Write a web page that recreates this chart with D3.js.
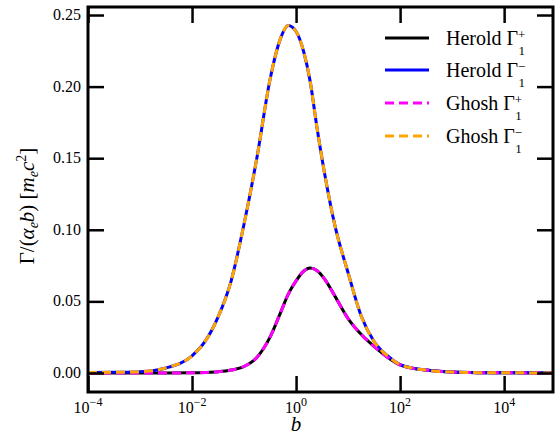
<!DOCTYPE html>
<html>
<head>
<meta charset="utf-8">
<script src="https://cdn.jsdelivr.net/npm/d3@7"></script>
<style>
  body { margin: 0; background: #fff; }
  text { font-family: "Liberation Serif", "DejaVu Serif", serif; }
</style>
</head>
<body>
<div id="chart"></div>
<script>
// b values
const bVals = [1e-4, 3.16e-4, 1e-3, 3.16e-3, 1e-2, 1.78e-2, 3.16e-2, 5.62e-2, 0.1, 0.178, 0.316,
  0.501, 0.708, 1, 1.41, 1.86, 2.51, 3.55, 5.62, 10, 17.8, 31.6, 56.2, 100, 178, 316, 1e3, 3.16e3, 1e4, 8.7e4]
// Gamma_1^- (Herold and Ghosh coincide)
const gMinus = [0.0003, 0.0005, 0.0009, 0.0035, 0.012, 0.022, 0.039, 0.064, 0.104, 0.151, 0.205,
  0.2335, 0.2426, 0.2385, 0.224, 0.204, 0.172, 0.139, 0.1025, 0.070, 0.040, 0.022, 0.0122, 0.0058, 0.0033, 0.0020, 0.0006, 0.0002, 0.0001, 0.00003]
// Gamma_1^+
const gPlus = [0.0, 0.0, 0.0, 0.0, 0.0001, 0.0003, 0.0008, 0.002, 0.0045, 0.011, 0.025,
  0.042, 0.055, 0.0643, 0.0712, 0.0733, 0.0716, 0.0655, 0.0535, 0.038, 0.027, 0.0185, 0.0112, 0.0056, 0.0032, 0.0020, 0.0006, 0.0002, 0.0001, 0.00003]

const xTicks = [1e-4, 1e-2, 1, 1e2, 1e4]
const xTickExp = ['\u22124', '\u22122', '0', '2', '4']
const yTicks = [0, 0.05, 0.10, 0.15, 0.20, 0.25]

const series = [
  { name: 'Herold', sign: '+', values: gPlus, color: '#000000', dash: null },
  { name: 'Herold', sign: '\u2212', values: gMinus, color: '#0000ff', dash: null },
  { name: 'Ghosh', sign: '+', values: gPlus, color: '#ff00ff', dash: '9,5' },
  { name: 'Ghosh', sign: '\u2212', values: gMinus, color: '#ffa500', dash: '9,5' }
]

const width = 556,
  height = 435,
  mLeft = 88,
  mRight = 553,
  mTop = 7,
  mBottom = 392

const svg = d3.select('#chart')
  .append('svg')
  .attr('width', width)
  .attr('height', height)

const x = d3.scaleLog()
  .domain([1e-4, 8.7e4])
  .range([mLeft, mRight])

const y = d3.scaleLinear()
  .domain([-0.0133, 0.2556])
  .range([mBottom, mTop])

svg.append('clipPath').attr('id', 'clip')
  .append('rect')
  .attr('x', mLeft).attr('y', mTop)
  .attr('width', mRight - mLeft).attr('height', mBottom - mTop)

const line = d3.line()
  .x((d, i) => x(bVals[i]))
  .y(d => y(d))
  .curve(d3.curveMonotoneX)

const plot = svg.append('g').attr('clip-path', 'url(#clip)')
series.forEach(s => {
  plot.append('path')
    .datum(s.values)
    .attr('d', line)
    .attr('fill', 'none')
    .attr('stroke', s.color)
    .attr('stroke-width', 3)
    .attr('stroke-dasharray', s.dash)
})

// axes, ticks inward on all four sides
const tickLen = 16
const xAxisB = d3.axisBottom(x).tickValues(xTicks).tickSize(-tickLen).tickFormat('')
const xAxisT = d3.axisTop(x).tickValues(xTicks).tickSize(-tickLen).tickFormat('')
const yAxisL = d3.axisLeft(y).tickValues(yTicks).tickSize(-tickLen).tickFormat('')
const yAxisR = d3.axisRight(y).tickValues(yTicks).tickSize(-tickLen).tickFormat('')

const axes = [
  svg.append('g').attr('transform', `translate(0,${mBottom})`).call(xAxisB),
  svg.append('g').attr('transform', `translate(0,${mTop})`).call(xAxisT),
  svg.append('g').attr('transform', `translate(${mLeft},0)`).call(yAxisL),
  svg.append('g').attr('transform', `translate(${mRight},0)`).call(yAxisR)
]
axes.forEach(g => {
  g.select('.domain').remove()
  g.selectAll('.tick line').attr('stroke', '#000').attr('stroke-width', 2.5)
})

svg.append('rect')
  .attr('x', mLeft).attr('y', mTop)
  .attr('width', mRight - mLeft).attr('height', mBottom - mTop)
  .attr('fill', 'none')
  .attr('stroke', '#000')
  .attr('stroke-width', 3)

// tick labels
xTicks.forEach((t, i) => {
  const lab = svg.append('text')
    .attr('x', x(t))
    .attr('y', 413)
    .attr('text-anchor', 'middle')
    .attr('font-size', 16)
  lab.append('tspan').text('10')
  lab.append('tspan').attr('dy', -7).attr('font-size', 12).text(xTickExp[i])
})

yTicks.forEach(t => {
  svg.append('text')
    .attr('x', 81)
    .attr('y', y(t) + 5)
    .attr('text-anchor', 'end')
    .attr('font-size', 16)
    .text(t.toFixed(2))
})

// axis labels
svg.append('text')
  .attr('x', x(1))
  .attr('y', 431)
  .attr('text-anchor', 'middle')
  .attr('font-size', 21)
  .attr('font-style', 'italic')
  .text('b')

const yl = svg.append('text')
  .attr('transform', 'translate(34,206) rotate(-90)')
  .attr('text-anchor', 'middle')
  .attr('font-size', 21)
yl.append('tspan').text('\u0393/(')
yl.append('tspan').attr('font-style', 'italic').text('\u03b1')
yl.append('tspan').attr('font-style', 'italic').attr('font-size', 14).attr('dy', 4).text('e')
yl.append('tspan').attr('font-style', 'italic').attr('dy', -4).text('b')
yl.append('tspan').text(')  [')
yl.append('tspan').attr('font-style', 'italic').text('m')
yl.append('tspan').attr('font-style', 'italic').attr('font-size', 14).attr('dy', 4).text('e')
yl.append('tspan').attr('font-style', 'italic').attr('dy', -4).text('c')
yl.append('tspan').attr('font-size', 14).attr('dy', -8).text('2')
yl.append('tspan').attr('dy', 8).text(']')

// legend
const legY = [38, 70, 103, 136]
series.forEach((s, i) => {
  svg.append('line')
    .attr('x1', 385).attr('x2', 429)
    .attr('y1', legY[i]).attr('y2', legY[i])
    .attr('stroke', s.color)
    .attr('stroke-width', 3)
    .attr('stroke-dasharray', s.dash)
  const t = svg.append('text')
    .attr('x', 446)
    .attr('y', legY[i] + 7)
    .attr('font-size', 20)
  t.append('tspan').text(s.name + ' \u0393')
  t.append('tspan').attr('font-size', 13).attr('dy', -6).text(s.sign)
  t.append('tspan').attr('font-size', 13).attr('dx', -7).attr('dy', 16).text('1')
})
</script>
</body>
</html>
